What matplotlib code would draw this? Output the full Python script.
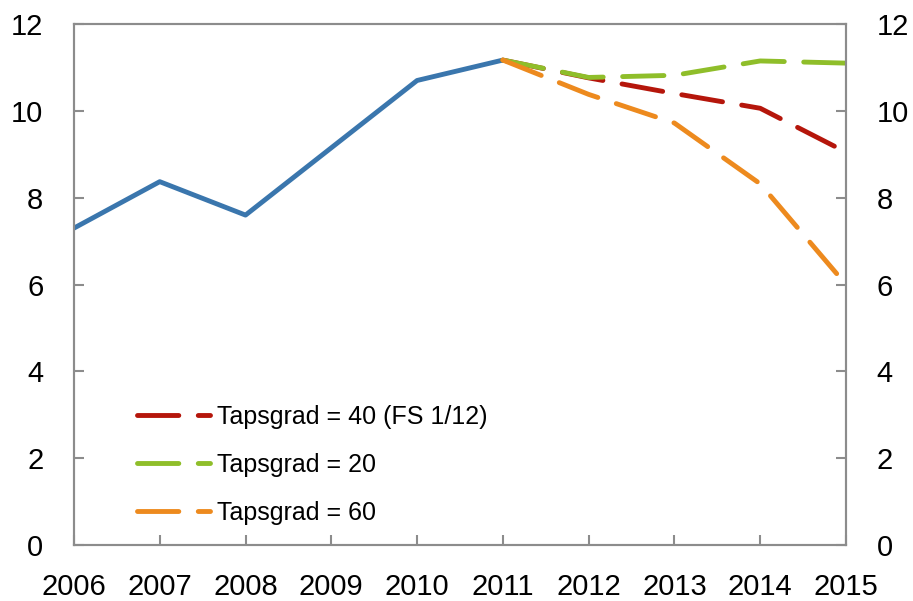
import matplotlib.pyplot as plt

plt.rcParams['font.family'] = ['Liberation Sans', 'DejaVu Sans']

years_hist = [2006, 2007, 2008, 2009, 2010, 2011]
hist = [7.30, 8.37, 7.60, 9.15, 10.70, 11.17]

years_scen = [2011, 2012, 2013, 2014, 2015]
tap40 = [11.17, 10.76, 10.40, 10.06, 9.05]
tap20 = [11.17, 10.77, 10.82, 11.15, 11.10]
tap60 = [11.17, 10.38, 9.72, 8.32, 6.0]

labels = ["Tapsgrad = 40 (FS 1/12)", "Tapsgrad = 20", "Tapsgrad = 60"]
colors = ["#b5160b", "#8fbe2a", "#ed8a1e"]
blue = "#3a76ad"
spine_col = "#8c8c8c"

fig = plt.figure(figsize=(9.13, 6.01), dpi=100)
ax = fig.add_axes([0.081, 0.093, 0.8456, 0.867])

lw = 3.5
ax.plot(years_hist, hist, color=blue, linewidth=lw, solid_capstyle='butt')
for vals, lab, col in zip([tap40, tap20, tap60], labels, colors):
    ax.plot(years_scen, vals, color=col, linewidth=lw, dashes=(8.5, 4.0),
            dash_capstyle='round', label=lab)

ax.set_xlim(2006, 2015)
ax.set_ylim(0, 12)
ax.set_xticks(years_hist + years_scen[1:])
ax.set_yticks(range(0, 13, 2))

ax2 = ax.twinx()
ax2.set_ylim(0, 12)
ax2.set_yticks(range(0, 13, 2))

for a in (ax, ax2):
    for s in a.spines.values():
        s.set_color(spine_col)
        s.set_linewidth(1.5)
ax.tick_params(axis='y', direction='in', length=7, width=1.5, color=spine_col,
               labelsize=21, pad=22)
ax.tick_params(axis='x', direction='in', length=7, width=1.5, color=spine_col,
               labelsize=21, pad=20)
ax2.tick_params(axis='y', direction='in', length=7, width=1.5, color=spine_col,
                labelsize=21, pad=22)

leg = ax.legend(loc='lower left', bbox_to_anchor=(0.053, -0.004), frameon=False,
                fontsize=18, handlelength=2.9, handletextpad=0.3,
                labelspacing=0.95)

fig.savefig("out.png", dpi=100)
